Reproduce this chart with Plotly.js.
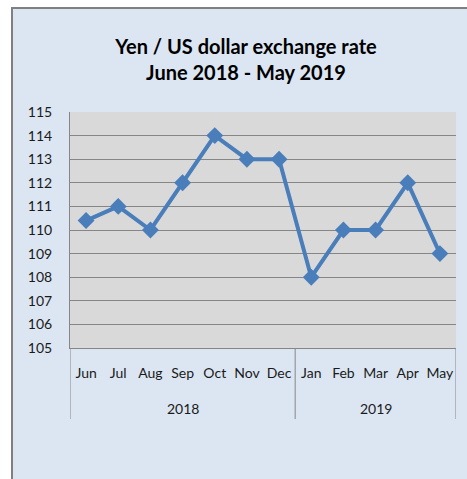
<!DOCTYPE html>
<html>
<head>
<meta charset="utf-8">
<script src="https://cdn.plot.ly/plotly-3.0.1.min.js"></script>
<style>
  html, body { margin: 0; padding: 0; background: #ffffff; }
  #frame { position: absolute; left: 11px; top: 7px; width: 456px; height: 472px;
           background: #dce6f2; border-left: 2px solid #808080; border-top: 2px solid #808080; box-sizing: border-box; }
  #chart { position: absolute; left: 0; top: 0; width: 467px; height: 479px; }
</style>
</head>
<body>
<div id="frame"></div>
<div id="chart"></div>
<script>
const months = ["Jun", "Jul", "Aug", "Sep", "Oct", "Nov", "Dec", "Jan", "Feb", "Mar", "Apr", "May"];
const years  = ["2018", "2018", "2018", "2018", "2018", "2018", "2018", "2019", "2019", "2019", "2019", "2019"];
const rates  = [110.4, 111, 110, 112, 114, 113, 113, 108, 110, 110, 112, 109];
const yTicks = [105, 106, 107, 108, 109, 110, 111, 112, 113, 114, 115];

const font = "Lato, 'Open Sans', sans-serif";

// Group the months by year (first/last category index of each year)
const groups = [];
years.forEach((yr, i) => {
  const g = groups[groups.length - 1];
  if (g && g.year === yr) g.last = i;
  else groups.push({ year: yr, first: i, last: i });
});

const plotH = 479 - 112 - 131;
const yearY = (348 - 408) / plotH;
const divY = (348 - 419) / plotH;

const annotations = groups.map(g => ({
  x: (g.first + g.last) / 2, xref: "x",
  y: yearY, yref: "paper",
  text: g.year, showarrow: false,
  xanchor: "center", yanchor: "middle",
  font: { family: font, size: 14, color: "#1a1a1a" }
}));

const bounds = [-0.5].concat(groups.map(g => g.last + 0.5));
const shapes = bounds.map(b => ({
  type: "line", xref: "x", yref: "paper",
  x0: b, x1: b, y0: 0, y1: divY,
  line: { color: "#868686", width: 1 }
}));

const trace = {
  type: "scatter",
  mode: "lines+markers",
  x: months,
  y: rates,
  line: { color: "#4a7ebb", width: 4 },
  marker: { symbol: "diamond", size: 13, color: "#4a7ebb" },
  hoverinfo: "skip",
  cliponaxis: false
};

const layout = {
  width: 467,
  height: 479,
  paper_bgcolor: "rgba(0,0,0,0)",
  plot_bgcolor: "#d9d9d9",
  margin: { l: 70, r: 11, t: 112, b: 131, pad: 0 },
  showlegend: false,
  title: {
    text: "<b>Yen / US dollar exchange rate<br>June 2018 - May 2019</b>",
    font: { family: font, size: 20, color: "#000000" },
    x: 246 / 467, xanchor: "center",
    y: 1 - 54 / 479, yanchor: "middle"
  },
  xaxis: {
    type: "category",
    categoryarray: months, categoryorder: "array",
    range: [-0.5, months.length - 0.5],
    showline: true, linecolor: "#868686", linewidth: 1,
    showgrid: false,
    ticks: "",
    tickangle: 0,
    ticklabelstandoff: 12,
    tickfont: { family: font, size: 14, color: "#1a1a1a" }
  },
  yaxis: {
    range: [105, 115],
    tickvals: yTicks,
    ticktext: yTicks.map(String),
    showline: true, linecolor: "#868686", linewidth: 1,
    showgrid: true, gridcolor: "#868686", gridwidth: 1,
    zeroline: false,
    ticks: "",
    ticklabelstandoff: 14,
    tickfont: { family: font, size: 14, color: "#1a1a1a" }
  },
  annotations: annotations,
  shapes: shapes
};

Plotly.newPlot("chart", [trace], layout, { staticPlot: true, displayModeBar: false });
</script>
</body>
</html>
